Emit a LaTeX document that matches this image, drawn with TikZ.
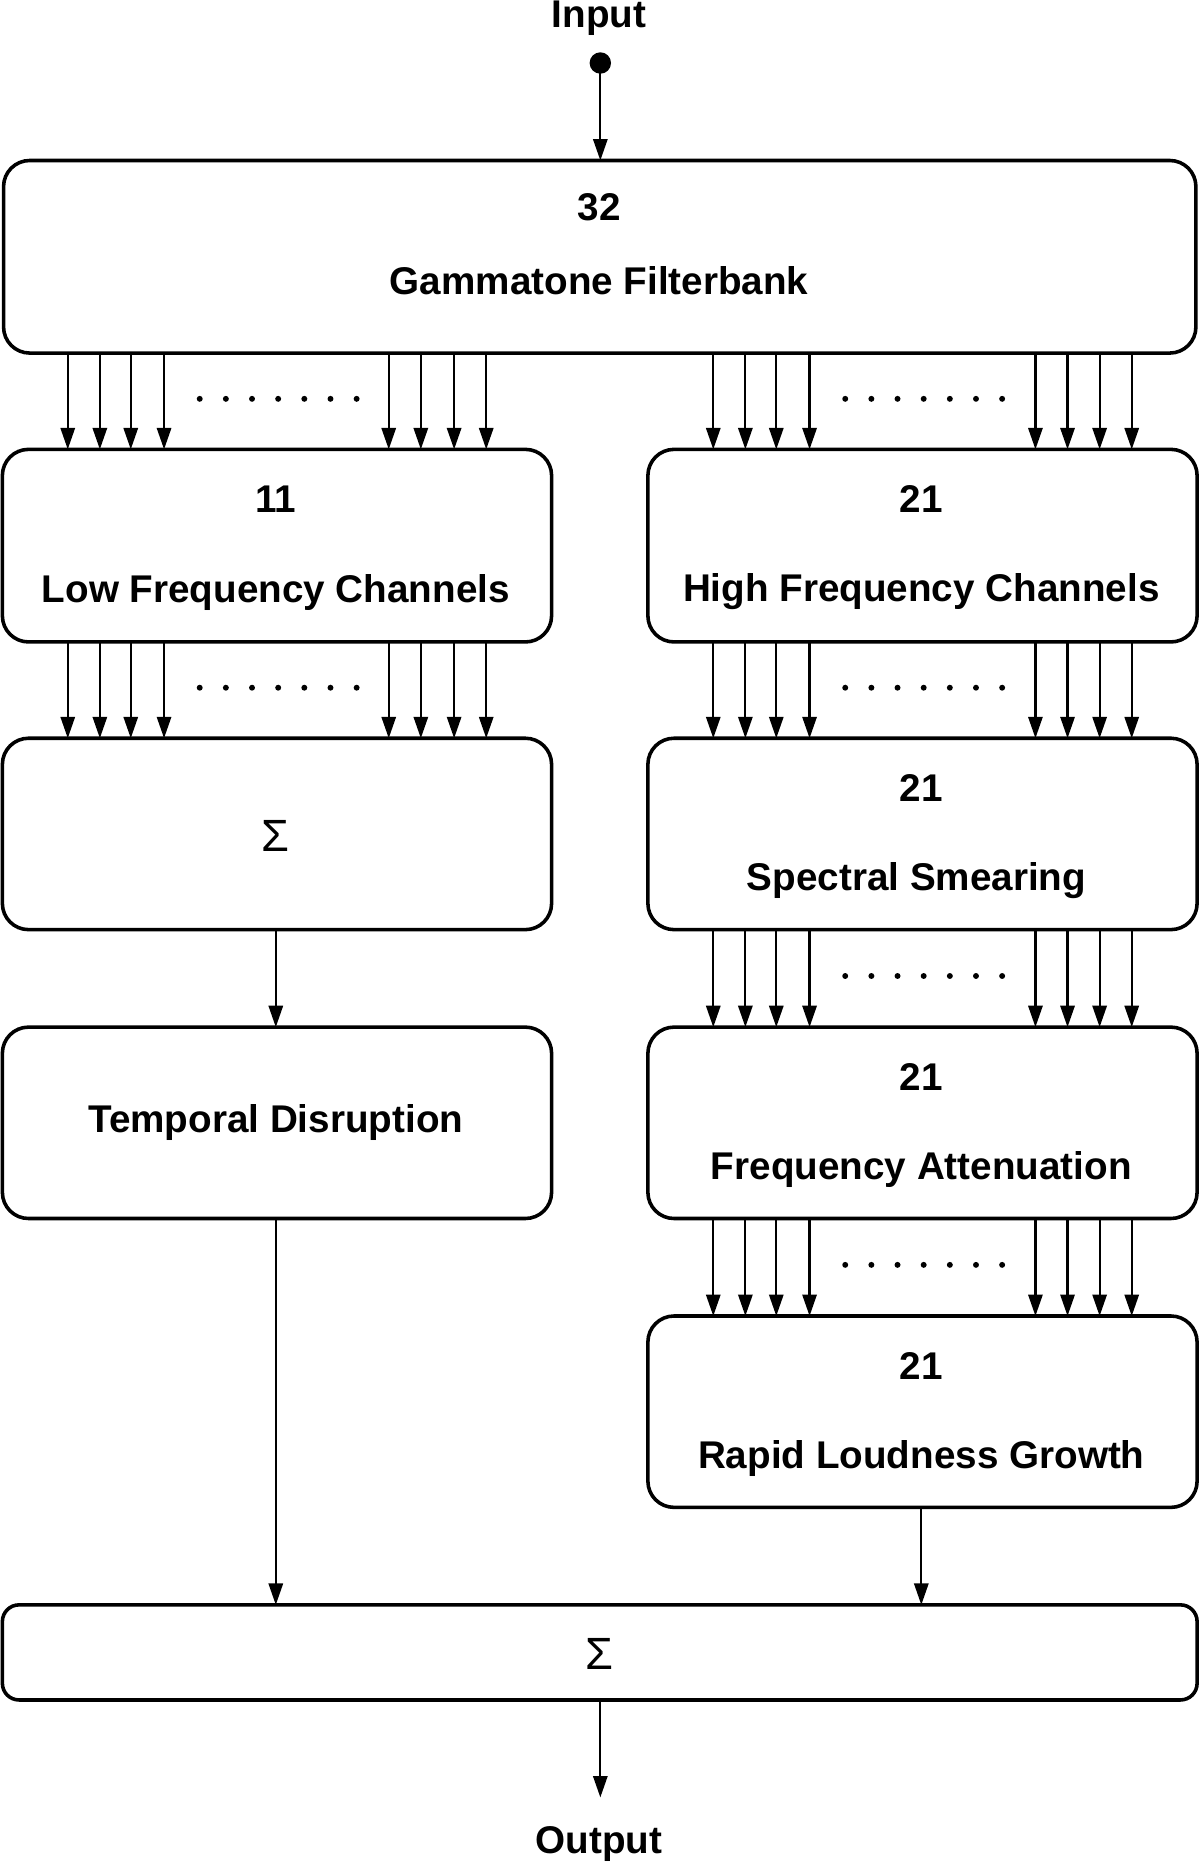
\documentclass[tikz,border=0pt]{standalone}
\usepackage{fontspec}
\setmainfont{Liberation Sans}
\usetikzlibrary{arrows.meta}
\begin{document}
\begin{tikzpicture}[x=1pt,y=-1pt,
  box/.style={draw,line width=3pt,rounded corners=22pt},
  arr/.style={line width=1.8pt,-{Triangle[length=18pt,width=12pt]}},
  lbl/.style={font=\fontsize{32.5}{38}\selectfont\bfseries,inner sep=0},
  sig/.style={font=\fontsize{38}{40}\selectfont,inner sep=0}]
\useasboundingbox (0,0) rectangle (1009,1568);
% boxes
\node[box,minimum width=1003pt,minimum height=162pt] (gf) at (504.5,216) {};
\node[box,minimum width=462pt,minimum height=162pt] (lf) at (233,459) {};
\node[box,minimum width=462pt,minimum height=162pt] (hf) at (776,459) {};
\node[box,minimum width=462pt,minimum height=161pt] (sl) at (233,701.5) {};
\node[box,minimum width=462pt,minimum height=161pt] (ss) at (776,701.5) {};
\node[box,minimum width=462pt,minimum height=161pt] (td) at (233,944.5) {};
\node[box,minimum width=462pt,minimum height=161pt] (fa) at (776,944.5) {};
\node[box,minimum width=462pt,minimum height=161pt] (rl) at (776,1187.5) {};
\node[draw,line width=3pt,rounded corners=14pt,minimum width=1005pt,minimum height=80pt] (bs) at (504.5,1390) {};
% texts
\node[lbl] (t0) at (504,174) {32};
\node[lbl] (t1) at (504,236) {Gammatone Filterbank};
\node[lbl] (t2) at (232,420) {11};
\node[lbl] (t3) at (232,498) {Low Frequency Channels};
\node[lbl] (t4) at (775,420) {21};
\node[lbl] (t5) at (775,498) {High Frequency Channels};
\node[sig] (t6) at (232,703) {Σ};
\node[lbl] (t7) at (775,663) {21};
\node[lbl] (t8) at (771,741) {Spectral Smearing};
\node[lbl] (t9) at (232,944) {Temporal Disruption};
\node[lbl] (t10) at (775,906) {21};
\node[lbl] (t11) at (775,984) {Frequency Attenuation};
\node[lbl] (t12) at (775,1149) {21};
\node[lbl] (t13) at (775,1227) {Rapid Loudness Growth};
\node[sig] (t14) at (504,1391) {Σ};
\node[lbl] (in) at (504,15) {Input};
\node[lbl] (out) at (504,1551) {Output};
% input / output
\fill (505,53) circle (9pt) coordinate (ind);
\coordinate (gft) at (505,135);
\draw[arr] (ind) -- (gft);
\coordinate (bsb) at (505,1430);
\coordinate (oute) at (505,1512);
\draw[arr] (bsb) -- (oute);
% multi-arrow bundles
\foreach \ya/\yb in {297/378,540/621}{
  \foreach \x in {57,84,110,138,327,354,382,409}{
    \coordinate (a) at (\x,\ya); \coordinate (b) at (\x,\yb);
    \draw[arr] (a) -- (b);}
  \foreach \x in {168,190,212,234,256,278,300}{\fill (\x,\ya/2+\yb/2-2) circle (2.5pt);}
}
\foreach \ya/\yb in {297/378,540/621,782/864,1025/1107}{
  \foreach \x in {600,627,653,681,871,898,925,952}{
    \coordinate (a) at (\x,\ya); \coordinate (b) at (\x,\yb);
    \draw[arr] (a) -- (b);}
  \foreach \x in {711,733,755,777,799,821,843}{\fill (\x,\ya/2+\yb/2-2) circle (2.5pt);}
}
% single arrows
\coordinate (s1) at (232,782); \coordinate (s2) at (232,864);
\draw[arr] (s1) -- (s2);
\coordinate (s3) at (232,1025); \coordinate (s4) at (232,1350);
\draw[arr] (s3) -- (s4);
\coordinate (s5) at (775,1268); \coordinate (s6) at (775,1350);
\draw[arr] (s5) -- (s6);
\end{tikzpicture}
\end{document}
